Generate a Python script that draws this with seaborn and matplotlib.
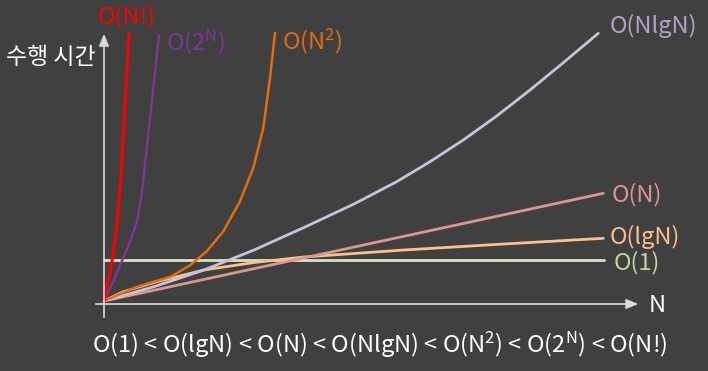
import seaborn as sns
import matplotlib.pyplot as plt

# points: n = distance right of the origin, t = height above it
n_const = [0, 500]
t_const = [43, 43]

n_log = [0, 19.3, 52.7, 100, 150, 200, 300, 400, 499.3]
t_log = [2, 11.3, 21.3, 33, 40.5, 46, 53, 59, 64.7]

n_lin = [0, 499.3]
t_lin = [2, 109.7]

n_nlog = [0, 50, 100, 150, 200, 250, 292.7, 326, 359.3, 392.7, 426, 459.3, 494.3]
t_nlog = [2, 16.3, 33, 53, 75.5, 99, 121.3, 141.3, 163, 187, 213, 240.3, 269.7]

n_sq = [0, 33.3, 66.7, 86, 102.7, 119.3, 136, 149.3, 159.3, 166, 171]
t_sq = [2, 16.3, 26.3, 37.7, 51.7, 71.7, 101.7, 135, 175, 225, 270]

n_exp = [0, 10, 18.3, 26.7, 33.3, 37.3, 39.3, 47.7, 55]
t_exp = [2, 23, 43, 63, 83, 106, 123, 199.7, 268]

n_fact = [0, 8.3, 13.3, 16.7, 21.3, 25]
t_fact = [2, 43, 83, 123, 203, 270]

curve_labels = ["O(1)", "O(lgN)", "O(N)", "O(NlgN)", "O(N$^{\\mathrm{2}}$)",
                "O(2$^{\\mathrm{N}}$)", "O(N!)"]
summary = ("O(1) < O(lgN) < O(N) < O(NlgN) < O(N$^{\\mathrm{2}}$) "
           "< O(2$^{\\mathrm{N}}$) < O(N!)")

bg = "#404040"
sns.set_theme(style="dark", rc={"axes.facecolor": bg, "figure.facecolor": bg})
plt.rcParams['font.family'] = ['Noto Sans CJK KR', 'DejaVu Sans']
plt.rcParams['mathtext.fontset'] = 'custom'
plt.rcParams['mathtext.rm'] = 'Noto Sans CJK KR'
plt.rcParams['mathtext.it'] = 'Noto Sans CJK KR'

fig = plt.figure(figsize=(7.08, 3.71), dpi=100)
ax = fig.add_axes([0, 0, 1, 1])
ax.set_xlim(-104, 604)
ax.set_ylim(-68, 303)
ax.set_axis_off()

axis_col = "#d9d9d9"
# axes with arrow heads
ax.annotate("", xy=(537, -1), xytext=(-11, -1),
            arrowprops=dict(arrowstyle="-|>,head_length=0.6,head_width=0.25", color=axis_col, lw=1.2))
ax.annotate("", xy=(0, 272), xytext=(0, -17),
            arrowprops=dict(arrowstyle="-|>,head_length=0.6,head_width=0.25", color=axis_col, lw=1.2))

sns.lineplot(x=n_const, y=t_const, color="#d7e4bd", linewidth=2, ax=ax, sort=False, estimator=None)
sns.lineplot(x=n_log, y=t_log, color="#fac090", linewidth=2, ax=ax, sort=False, estimator=None)
sns.lineplot(x=n_lin, y=t_lin, color="#d99694", linewidth=2, ax=ax, sort=False, estimator=None)
sns.lineplot(x=n_nlog, y=t_nlog, color="#ccc1da", linewidth=2, ax=ax, sort=False, estimator=None)
sns.lineplot(x=n_sq, y=t_sq, color="#e46c0a", linewidth=1.8, ax=ax, sort=False, estimator=None)
sns.lineplot(x=n_exp, y=t_exp, color="#7e3794", linewidth=1.8, ax=ax, sort=False, estimator=None)
sns.lineplot(x=n_fact, y=t_fact, color="#ff0000", linewidth=2.2, ax=ax, sort=False, estimator=None)

fs = 17
ax.text(510, 40, curve_labels[0], color="#c3d69b", fontsize=fs, ha="left", va="center")
ax.text(506, 66, curve_labels[1], color="#fac090", fontsize=fs, ha="left", va="center")
ax.text(508, 108, curve_labels[2], color="#d99694", fontsize=fs, ha="left", va="center")
ax.text(506, 277, curve_labels[3], color="#b3a2c7", fontsize=fs, ha="left", va="center")
ax.text(208, 262, curve_labels[4], color="#e46c0a", fontsize=fs, ha="center", va="center")
ax.text(92, 261, curve_labels[5], color="#7e3794", fontsize=fs, ha="center", va="center")
ax.text(23, 286, curve_labels[6], color="#ff0000", fontsize=fs, ha="center", va="center")

ax.text(553, -3, "N", color="white", fontsize=fs, ha="center", va="center")
ax.text(-53, 246, "수행 시간", color="white", fontsize=16.5, ha="center", va="center")
ax.text(276, -42, summary, color="white", fontsize=fs, ha="center", va="center")

fig.savefig("out.png", dpi=100, facecolor=bg)
